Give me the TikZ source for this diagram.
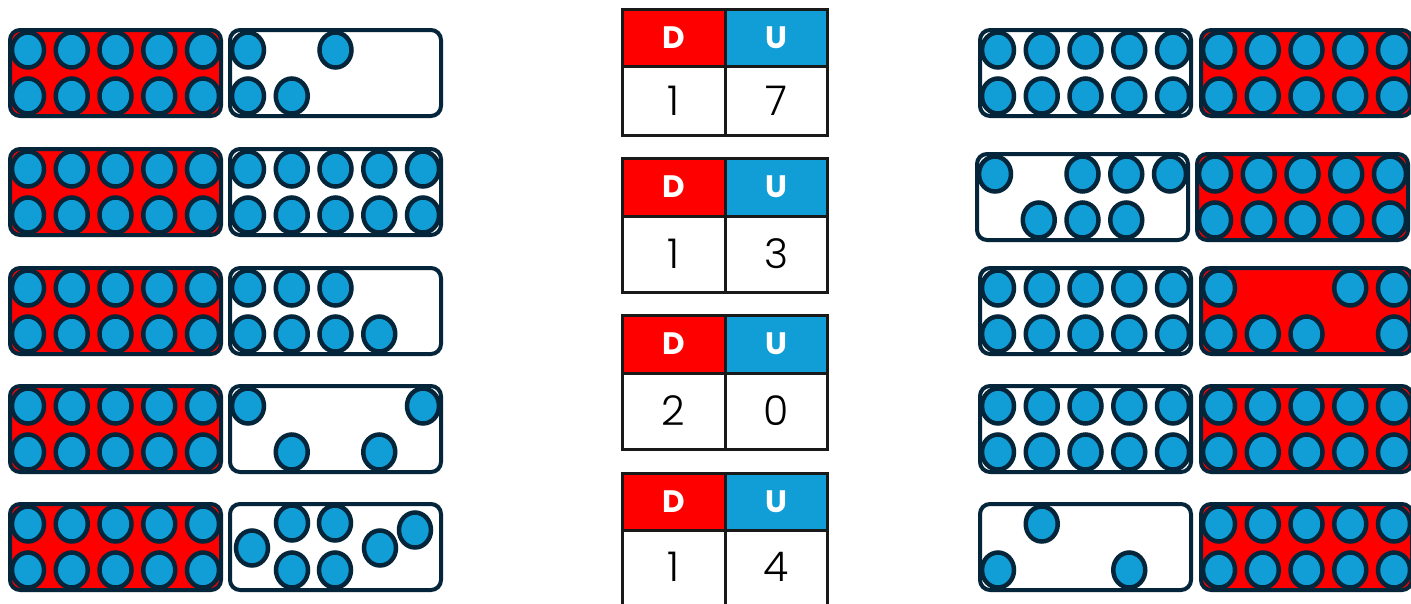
\documentclass[tikz,border=0pt]{standalone}
\usepackage{fontspec}
\newfontfamily\popfont{Poppins}
\newfontfamily\poplight{Poppins}[UprightFont=* Light]
\definecolor{tfred}{HTML}{FF0000}
\definecolor{tfblue}{HTML}{119ED6}
\definecolor{tfline}{HTML}{05263A}
\tikzset{
  frm/.style={draw=tfline, line width=4pt, rounded corners=10pt},
  dot/.style={draw=tfline, line width=4.5pt, fill=tfblue},
  cell/.style={draw=black!90, line width=3pt},
  hd/.style={font=\popfont\bfseries\fontsize{31}{31}\selectfont, text=white, inner sep=0pt},
  num/.style={font=\poplight\fontsize{41}{41}\selectfont, text=black, inner sep=0pt}
}
% frame outline
\newcommand\tfbox[3]{\draw[frm,fill=#3] ({#1+2},{#2+2}) rectangle ({#1+213},{#2+88});}
% dots at grid positions col/row
\newcommand\tfdots[3]{\foreach \c/\r in {#3} {\draw[dot] ({#1+20+43.75*(\c-1)},{#2+22+46*(\r-1)}) ellipse [x radius=16pt, y radius=17.5pt];}}
% full ten frame dots
\newcommand\tffull[2]{\foreach \c in {1,...,5} {\foreach \r in {1,2} {\draw[dot] ({#1+20+43.75*(\c-1)},{#2+22+46*(\r-1)}) ellipse [x radius=16pt, y radius=17.5pt];}}}
\newcommand\tfdot[2]{\draw[dot] (#1,#2) ellipse [x radius=16pt, y radius=17.5pt];}
% D/U table: name, top, header bottom, bottom, tens, units
\newcommand\dutable[6]{
  \fill[tfred] (622,#2) rectangle (725,#3);
  \fill[tfblue] (725,#2) rectangle (827,#3);
  \draw[cell] (622,#2) rectangle (827,#4);
  \draw[cell] (622,#3) -- (827,#3);
  \draw[cell] (725,#2) -- (725,#4);
  \node[hd] (#1d) at (673.5,{(#2+#3)/2}) {D};
  \node[hd] (#1u) at (776,{(#2+#3)/2}) {U};
  \node[num] (#1a) at (673.5,{(#3+min(#4,603))/2}) {#5};
  \node[num] (#1b) at (776,{(#3+min(#4,603))/2}) {#6};
}
\begin{document}
\begin{tikzpicture}[x=1pt,y=-1pt]
\useasboundingbox (0,0) rectangle (1411,603);
\clip (0,0) rectangle (1411,603);
\fill[white] (0,0) rectangle (1411,603);
% ---------- left column ----------
\foreach \yt in {28,147,266,384,502} {
  \tfbox{8}{\yt}{tfred}
  \tffull{8}{\yt}
}
% row 1
\tfbox{228}{28}{white}
\tfdots{228}{28}{1/1,3/1,1/2,2/2}
% row 2
\tfbox{228}{147}{white}
\tffull{228}{147}
% row 3
\tfbox{228}{266}{white}
\tfdots{228}{266}{1/1,2/1,3/1,1/2,2/2,3/2,4/2}
% row 4
\tfbox{228}{384}{white}
\tfdots{228}{384}{1/1,5/1,2/2,4/2}
% row 5
\tfbox{228}{502}{white}
\tfdot{252}{548}
\tfdot{292}{523}
\tfdot{335}{523}
\tfdot{292}{570}
\tfdot{335}{570}
\tfdot{380}{548}
\tfdot{415}{530}
% ---------- tables ----------
\dutable{ta}{9}{66}{135}{1}{7}
\dutable{tb}{158}{216}{292}{1}{3}
\dutable{tc}{315}{373}{449}{2}{0}
\dutable{td}{473}{530}{640}{1}{4}
% ---------- right column ----------
% row 1
\tfbox{978}{28}{white}
\tffull{978}{28}
\tfbox{1199}{28}{tfred}
\tffull{1199}{28}
% row 2
\tfbox{975}{152}{white}
\tfdots{975}{152}{1/1,3/1,4/1,5/1,2/2,3/2,4/2}
\tfbox{1195}{152}{tfred}
\tffull{1195}{152}
% row 3
\tfbox{978}{266}{white}
\tffull{978}{266}
\tfbox{1199}{266}{tfred}
\tfdots{1199}{266}{1/1,4/1,5/1,1/2,2/2,3/2,5/2}
% row 4
\tfbox{978}{384}{white}
\tffull{978}{384}
\tfbox{1199}{384}{tfred}
\tffull{1199}{384}
% row 5
\tfbox{978}{502}{white}
\tfdots{978}{502}{2/1,1/2,4/2}
\tfbox{1199}{502}{tfred}
\tffull{1199}{502}
\end{tikzpicture}
\end{document}
